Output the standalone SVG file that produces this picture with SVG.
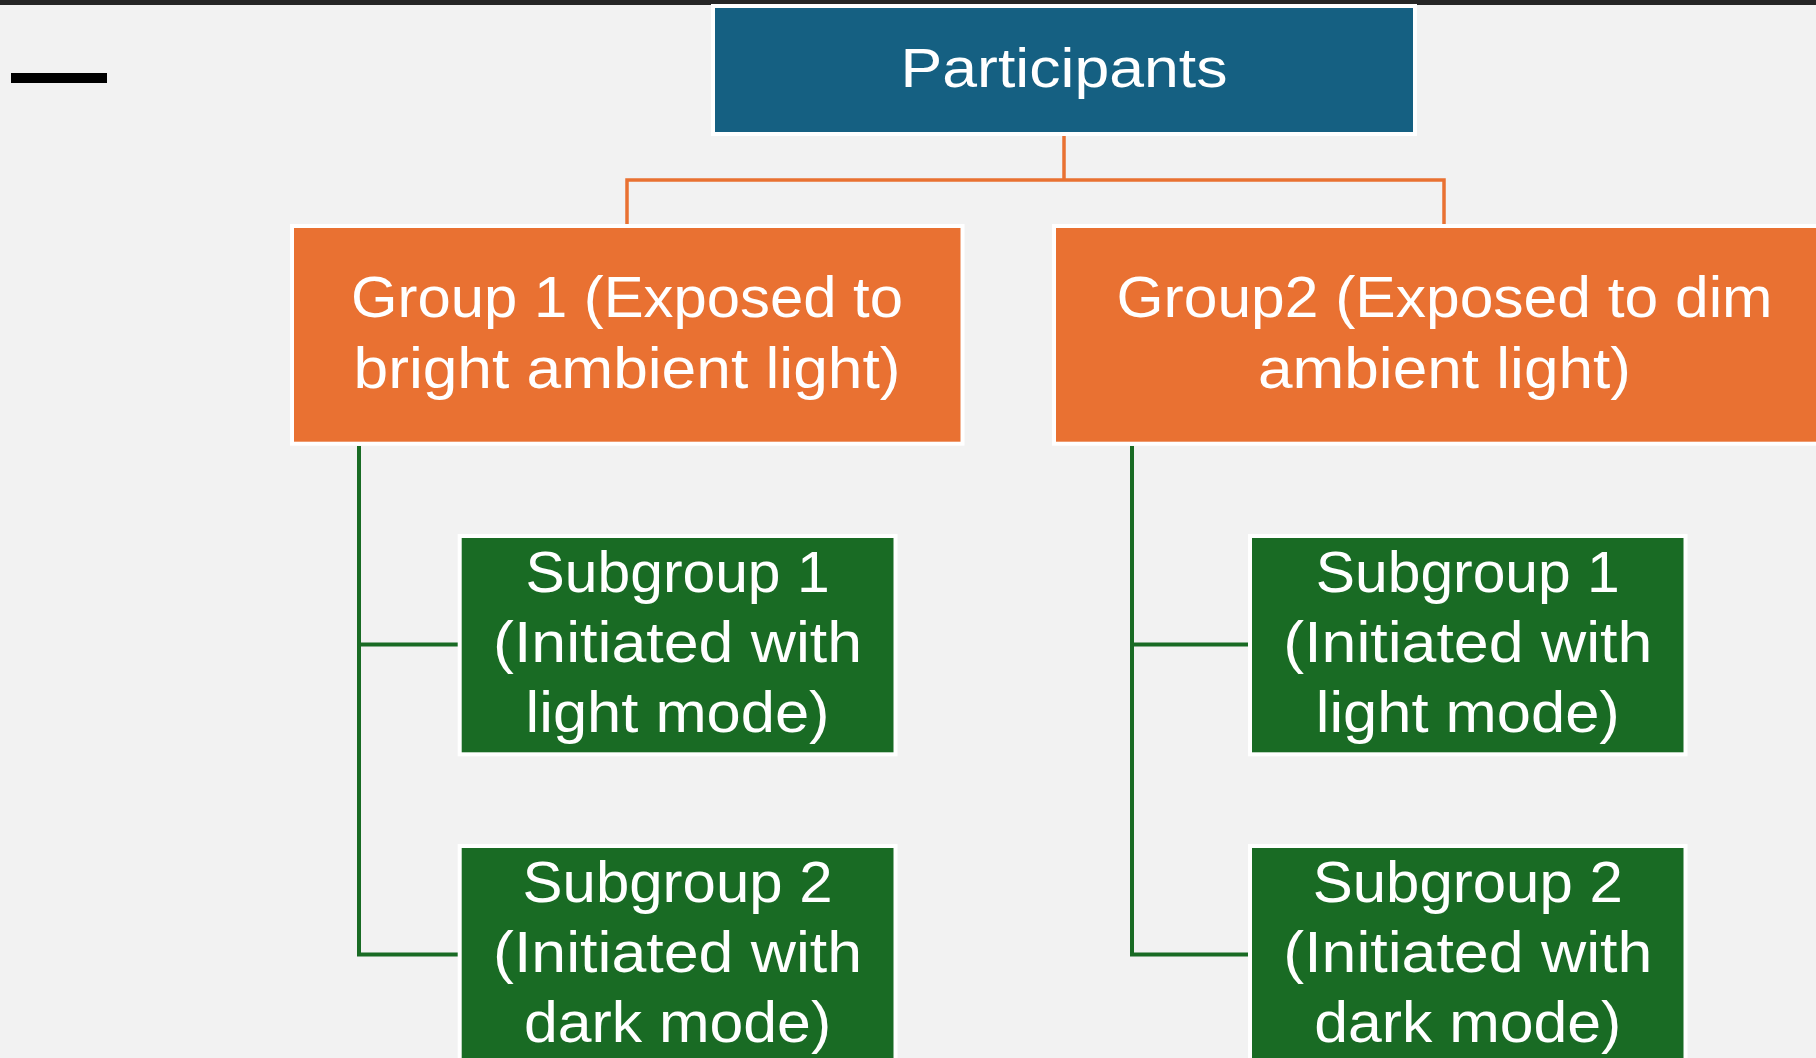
<svg xmlns="http://www.w3.org/2000/svg" width="1816" height="1058" viewBox="0 0 1816 1058">
<style>
.box{stroke:#FFFFFF;stroke-width:4}
.blue{fill:#156082}
.orange{fill:#E97132}
.green{fill:#196B24}
.t{font-family:"Liberation Sans",Arial,sans-serif;fill:#FFFFFF;text-anchor:middle}
.oc{stroke:#E97132;stroke-width:3.5;fill:none}
.gc{stroke:#196B24;stroke-width:4;fill:none}
</style>
<rect x="0" y="0" width="1816" height="1058" fill="#F2F2F2"/>
<rect x="0" y="0" width="1816" height="5" fill="#262626"/>
<rect x="11" y="73" width="96" height="10" fill="#000000"/>
<g id="connectors">
<path class="oc" d="M1064 136 V180 M627 224 V180 H1444 V224"/>
<path class="gc" d="M359 446 V954.5 H458 M359 644.5 H458"/>
<path class="gc" d="M1132 446 V954.5 H1248 M1132 644.5 H1248"/>
</g>
<g id="participants">
<rect class="box blue" x="713" y="6" width="702" height="128"/>
<text class="t" x="1064" y="87" font-size="56" textLength="327" lengthAdjust="spacingAndGlyphs">Participants</text>
</g>
<g id="group1">
<rect class="box orange" x="292" y="226" width="670.5" height="217.7"/>
<text class="t" x="627" y="317" font-size="58" textLength="552" lengthAdjust="spacingAndGlyphs">Group 1 (Exposed to</text>
<text class="t" x="627" y="388" font-size="58" textLength="547" lengthAdjust="spacingAndGlyphs">bright ambient light)</text>
</g>
<g id="group2">
<rect class="box orange" x="1054" y="226" width="790" height="217.7"/>
<text class="t" x="1444.5" y="317" font-size="58" textLength="656" lengthAdjust="spacingAndGlyphs">Group2 (Exposed to dim</text>
<text class="t" x="1444.5" y="388" font-size="58" textLength="373" lengthAdjust="spacingAndGlyphs">ambient light)</text>
</g>
<g id="g1-subgroup1">
<rect class="box green" x="459.7" y="536" width="435.8" height="218.3"/>
<text class="t" x="677.6" y="592" font-size="58" textLength="304" lengthAdjust="spacingAndGlyphs">Subgroup 1</text>
<text class="t" x="677.6" y="662" font-size="58" textLength="369" lengthAdjust="spacingAndGlyphs">(Initiated with</text>
<text class="t" x="677.6" y="732" font-size="58" textLength="304" lengthAdjust="spacingAndGlyphs">light mode)</text>
</g>
<g id="g1-subgroup2">
<rect class="box green" x="459.7" y="846" width="435.8" height="240"/>
<text class="t" x="677.6" y="902" font-size="58" textLength="310" lengthAdjust="spacingAndGlyphs">Subgroup 2</text>
<text class="t" x="677.6" y="972" font-size="58" textLength="369" lengthAdjust="spacingAndGlyphs">(Initiated with</text>
<text class="t" x="677.6" y="1042" font-size="58" textLength="307" lengthAdjust="spacingAndGlyphs">dark mode)</text>
</g>
<g id="g2-subgroup1">
<rect class="box green" x="1250" y="536" width="435.5" height="218.3"/>
<text class="t" x="1467.8" y="592" font-size="58" textLength="304" lengthAdjust="spacingAndGlyphs">Subgroup 1</text>
<text class="t" x="1467.8" y="662" font-size="58" textLength="369" lengthAdjust="spacingAndGlyphs">(Initiated with</text>
<text class="t" x="1467.8" y="732" font-size="58" textLength="304" lengthAdjust="spacingAndGlyphs">light mode)</text>
</g>
<g id="g2-subgroup2">
<rect class="box green" x="1250" y="846" width="435.5" height="240"/>
<text class="t" x="1467.8" y="902" font-size="58" textLength="310" lengthAdjust="spacingAndGlyphs">Subgroup 2</text>
<text class="t" x="1467.8" y="972" font-size="58" textLength="369" lengthAdjust="spacingAndGlyphs">(Initiated with</text>
<text class="t" x="1467.8" y="1042" font-size="58" textLength="307" lengthAdjust="spacingAndGlyphs">dark mode)</text>
</g>
</svg>
